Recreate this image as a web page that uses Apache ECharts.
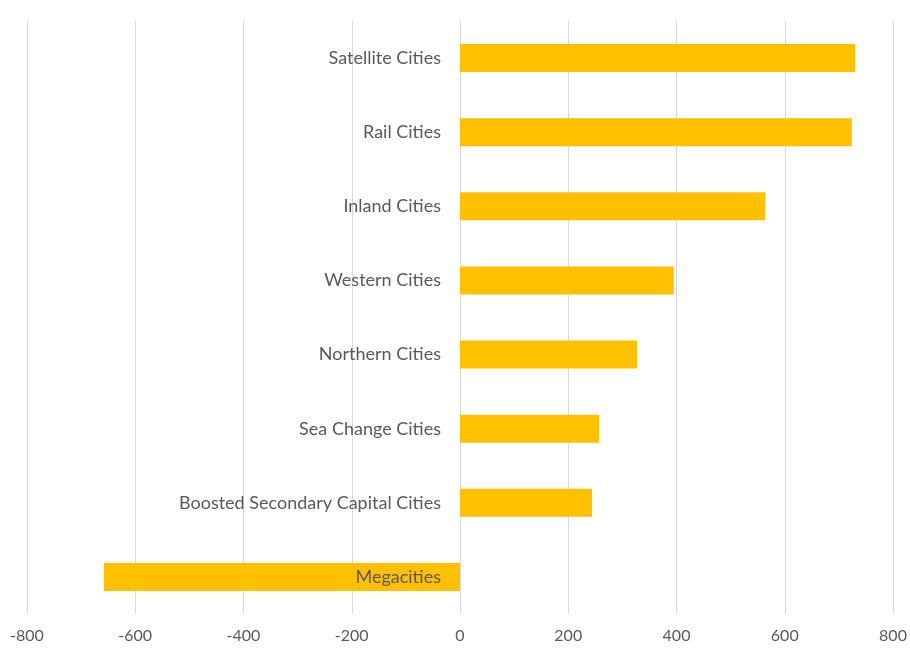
<!DOCTYPE html>
<html>
<head>
<meta charset="utf-8">
<script src="https://cdn.jsdelivr.net/npm/echarts@6/dist/echarts.min.js"></script>
<style>html,body{margin:0;padding:0;background:#fff;}#c{width:910px;height:648px;}</style>
</head>
<body>
<div id="c"></div>
<script>
const categories = ["Satellite Cities","Rail Cities","Inland Cities","Western Cities","Northern Cities","Sea Change Cities","Boosted Secondary Capital Cities","Megacities"];
const values = [730, 724, 564, 395, 327, 257, 244, -658];
const xTicks = { min: -800, max: 800, interval: 200 };

const gridLeft = 27, gridRight = 17;
const chartW = 910 - gridLeft - gridRight;
const zeroOffset = chartW * (0 - xTicks.min) / (xTicks.max - xTicks.min);

const chart = echarts.init(document.getElementById('c'), null, {renderer:'canvas'});
chart.setOption({
  animation: false,
  backgroundColor: '#ffffff',
  grid: { left: gridLeft, right: gridRight, top: 21, bottom: 34, containLabel: false },
  xAxis: {
    type: 'value', min: xTicks.min, max: xTicks.max, interval: xTicks.interval,
    axisLine: { show: false }, axisTick: { show: false },
    splitLine: { show: true, lineStyle: { color: '#d9d9d9', width: 1 } },
    axisLabel: { color: '#595959', fontSize: 16, fontFamily: 'Lato', margin: 14 }
  },
  yAxis: {
    type: 'category', data: categories, inverse: true, z: 5,
    offset: -zeroOffset,
    axisLine: { show: false, onZero: false },
    axisTick: { show: false },
    splitLine: { show: false },
    axisLabel: { color: '#595959', fontSize: 18, fontFamily: 'Lato', margin: 19 }
  },
  series: [{
    type: 'bar', data: values, barWidth: 28, z: 2,
    itemStyle: { color: '#FFC000' }
  }]
});
</script>
</body>
</html>
